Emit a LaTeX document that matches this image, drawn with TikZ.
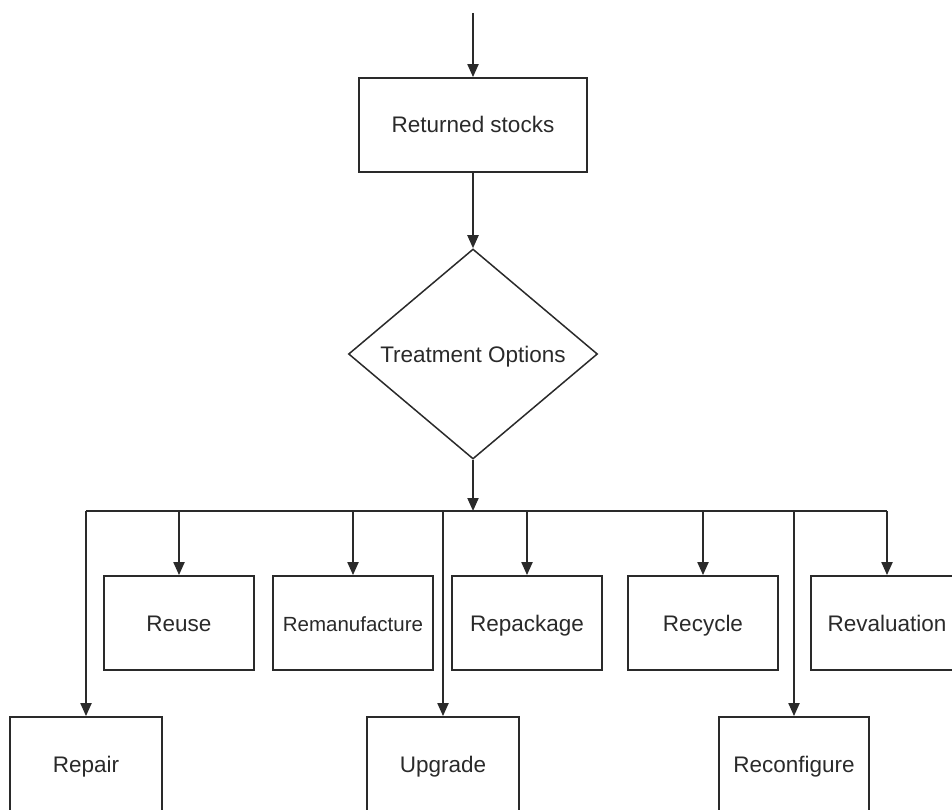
\documentclass[tikz,border=0pt]{standalone}
\usepackage{fontspec}
\setmainfont{Liberation Sans}
\usetikzlibrary{arrows.meta,shapes.geometric}
\definecolor{ink}{HTML}{2A2A2A}
\tikzset{
  box/.style={draw=ink, line width=1.8pt, rectangle, inner sep=0pt, text=ink,
    minimum width=150pt, minimum height=94pt, text height=16pt, text depth=0pt,
    font=\fontsize{22.5}{26}\selectfont},
  dia/.style={draw=ink, line width=1.5pt, diamond, inner sep=0pt, text=ink,
    minimum width=249pt, minimum height=210pt, text height=16pt, text depth=0pt,
    font=\fontsize{22.5}{26}\selectfont},
  arr/.style={draw=ink, line width=2pt, -{Triangle[length=13pt,width=11pt]}},
  ln/.style={draw=ink, line width=2pt}
}
\begin{document}
\begin{tikzpicture}[x=1pt,y=-1pt]
\useasboundingbox (0,0) rectangle (952,810);
\clip (0,0) rectangle (952,810);
\coordinate (start) at (473,13);
\node[box, minimum width=228pt, minimum height=94pt] (ret) at (473,125) {Returned stocks};
\node[dia] (opt) at (473,354) {Treatment Options};
\coordinate (bus) at (473,511);
% first row
\node[box, minimum width=150pt, minimum height=94pt] (reuse) at (179,623) {Reuse};
\node[box, minimum width=160pt, minimum height=94pt, font=\fontsize{20.5}{24}\selectfont] (reman) at (353,623) {Remanufacture};
\node[box, minimum width=150pt, minimum height=94pt] (repack) at (527,623) {Repackage};
\node[box, minimum width=150pt, minimum height=94pt] (recyc) at (703,623) {Recycle};
\node[box, minimum width=152pt, minimum height=94pt] (reval) at (887,623) {Revaluation};
% second row
\node[box, minimum width=152pt, minimum height=94pt] (repair) at (86,764) {Repair};
\node[box, minimum width=152pt, minimum height=94pt] (upg) at (443,764) {Upgrade};
\node[box, minimum width=150pt, minimum height=94pt] (reconf) at (794,764) {Reconfigure};
% connectors
\draw[arr] (start) -- (ret.north);
\draw[arr] (ret.south) -- (opt.north);
\draw[ln] (repair.north |- bus) -- (reval.north |- bus);
\draw[arr] (opt.south) -- (bus);
\draw[arr] (repair.north |- bus) -- (repair.north);
\draw[arr] (reuse.north |- bus) -- (reuse.north);
\draw[arr] (reman.north |- bus) -- (reman.north);
\draw[arr] (upg.north |- bus) -- (upg.north);
\draw[arr] (repack.north |- bus) -- (repack.north);
\draw[arr] (recyc.north |- bus) -- (recyc.north);
\draw[arr] (reconf.north |- bus) -- (reconf.north);
\draw[arr] (reval.north |- bus) -- (reval.north);
\end{tikzpicture}
\end{document}
